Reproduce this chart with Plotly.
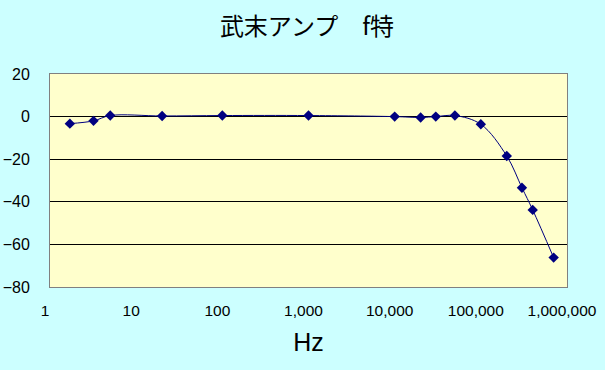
import plotly.graph_objects as go

# Data
freq_hz = [1.7, 3.2, 5, 20, 100, 1000, 10000, 20000, 30000, 50000, 100000, 200000, 300000, 400000, 700000]
gain_db = [-3.3, -2.0, 0.5, 0.3, 0.5, 0.5, 0.0, -0.4, 0.0, 0.5, -3.6, -18.5, -33.4, -43.8, -66.2]

x_tick_vals = [1, 10, 100, 1000, 10000, 100000, 1000000]
x_tick_text = ["1", "10", "100", "1,000", "10,000", "100,000", "1,000,000"]
y_tick_vals = [20, 0, -20, -40, -60, -80]

title_text = "武末アンプ\u3000f特"
x_title = "Hz"

fig = go.Figure()
fig.add_trace(go.Scatter(
    x=freq_hz, y=gain_db,
    mode="lines+markers",
    line=dict(color="#000080", width=1, shape="spline", smoothing=1.0),
    marker=dict(symbol="diamond", size=8, color="#000080", line=dict(width=0)),
    showlegend=False,
))

fig.update_layout(
    width=605, height=370,
    margin=dict(l=50, r=38, t=74, b=83),
    paper_bgcolor="#CCFFFF",
    plot_bgcolor="#FFFFCC",
    font=dict(family="Liberation Sans, Arial, sans-serif", color="black", size=15),
    title=dict(
        text=title_text,
        font=dict(family="Noto Sans CJK JP, sans-serif", size=24, color="black"),
        x=0.497, xanchor="center", xref="paper",
        y=1 - 27 / 370, yanchor="middle", yref="container",
    ),
    xaxis=dict(
        type="log",
        range=[0, 6],
        tickvals=x_tick_vals,
        ticktext=x_tick_text,
        showgrid=False,
        zeroline=False,
        showline=True, linecolor="#808080", linewidth=1, mirror=True,
        ticks="",
        ticklabelstandoff=9,
        ticklabelshift=-5,
        tickfont=dict(size=15.5),
        title=dict(text=x_title, font=dict(size=25), standoff=15),
        automargin=False,
    ),
    yaxis=dict(
        range=[-80, 20],
        tickvals=y_tick_vals,
        showgrid=True, gridcolor="black", gridwidth=1,
        zeroline=False,
        showline=True, linecolor="#808080", linewidth=1, mirror=True,
        ticks="",
        ticklabelstandoff=16,
        tickfont=dict(size=16),
        automargin=False,
    ),
)

fig.write_html("out.html")
